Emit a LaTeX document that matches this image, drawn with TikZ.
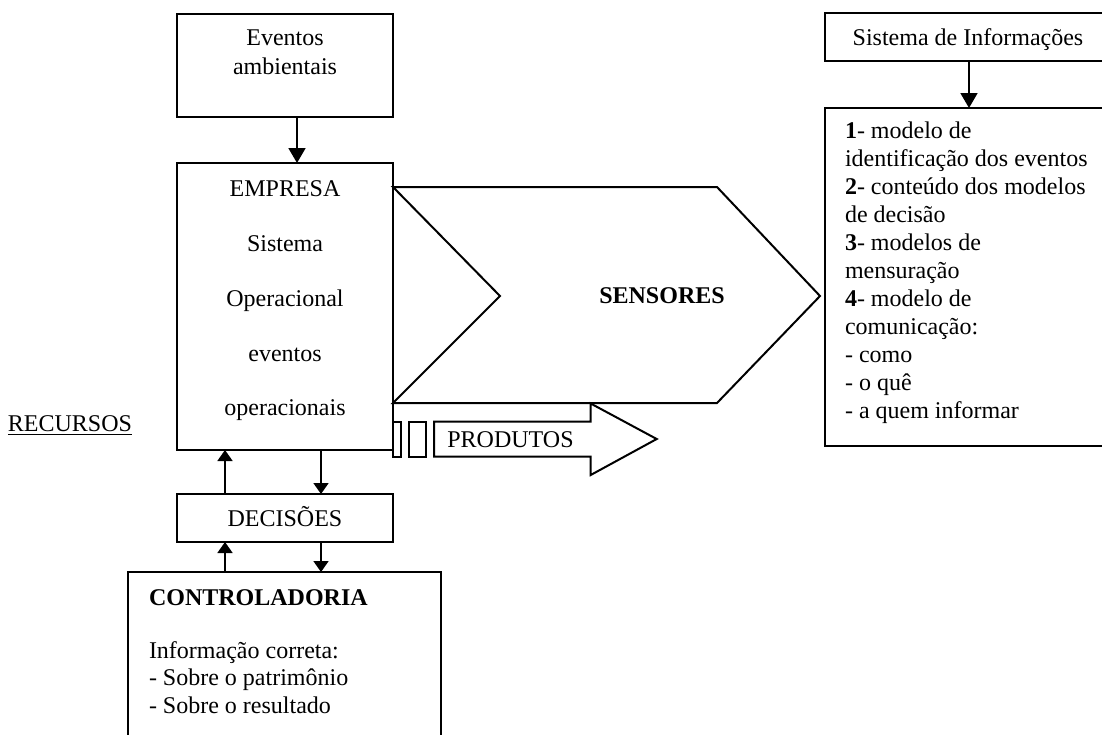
\documentclass[tikz,border=0pt]{standalone}
\usepackage{fontspec}
\setmainfont{Liberation Serif}
\usetikzlibrary{arrows.meta}
\begin{document}
\begin{tikzpicture}[x=0.5pt,y=-0.5pt,
  font=\fontsize{12}{14}\selectfont,
  box/.style={draw, line width=1pt, inner sep=0pt, outer sep=0pt, anchor=north west},
  txt/.style={inner sep=0pt, outer sep=0pt},
  bigarrow/.style={line width=0.9pt, -{Triangle[width=8.5pt,length=7.5pt]}},
  smallarrow/.style={line width=0.9pt, -{Triangle[width=7.5pt,length=5.5pt]}},
  outline/.style={draw, line width=1pt, line join=miter, fill=white}]
\useasboundingbox (0,0) rectangle (1102,734);
\clip (0,0) rectangle (1102,734);

% boxes
\node[box, minimum width=108pt, minimum height=51.5pt] (ev) at (177,14) {};
\node[box, minimum width=108pt, minimum height=143.5pt] (emp) at (177,163) {};
\node[box, minimum width=108pt, minimum height=24pt] (dec) at (177,494) {};
\node[box, minimum width=156.5pt, minimum height=94pt] (ctl) at (128,572) {};
\node[box, minimum width=143pt, minimum height=24pt] (si) at (825,13) {};
\node[box, minimum width=143pt, minimum height=169pt] (inf) at (825,108) {};

% SENSORES chevron
\draw[outline] (393,187) -- (717,187) -- (820,296) -- (717,403) -- (393,403)
  -- (500,296) -- cycle;
\node[txt, anchor=base, font=\fontsize{12}{14}\selectfont\bfseries] (sens) at (662,303) {SENSORES};

% PRODUTOS arrow and its two small bars
\draw[outline] (434,421.7) -- (590.7,421.7) -- (590.7,403.5) -- (656.7,439)
  -- (590.7,475) -- (590.7,456.7) -- (434,456.7) -- cycle;
\draw[outline] (393,421.7) rectangle (400.7,456.7);
\draw[outline] (409,421.7) rectangle (425.7,456.7);
\node[txt, anchor=base] (prod) at (510.5,447.3) {PRODUTOS};

% texts
\node[txt, anchor=base] (ev1) at (285,45.7) {Eventos};
\node[txt, anchor=base] (ev2) at (285,74) {ambientais};

\node[txt, anchor=base] (e1) at (285,196.7) {EMPRESA};
\node[txt, anchor=base] (e2) at (285,251.5) {Sistema};
\node[txt, anchor=base] (e3) at (285,306.3) {Operacional};
\node[txt, anchor=base] (e4) at (285,361.1) {eventos};
\node[txt, anchor=base] (e5) at (285,415.9) {operacionais};

\node[txt, anchor=base] (d1) at (285,526.7) {DECISÕES};

\node[txt, anchor=base east] (rec) at (132,431.7) {\underline{RECURSOS}};

\node[txt, anchor=base west, font=\fontsize{12}{14}\selectfont\bfseries] (c1) at (149,605) {CONTROLADORIA};
\node[txt, anchor=base west] (c2) at (149,658.3) {Informação correta:};
\node[txt, anchor=base west] (c3) at (149,685.8) {- Sobre o patrimônio};
\node[txt, anchor=base west] (c4) at (149,713.3) {- Sobre o resultado};

\node[txt, anchor=base] (s1) at (968,45) {Sistema de Informações};

\foreach \k/\t in {0/{\textbf{1}- modelo de},
                   1/{identificação dos eventos},
                   2/{\textbf{2}- conteúdo dos modelos},
                   3/{de decisão},
                   4/{\textbf{3}- modelos de},
                   5/{mensuração},
                   6/{\textbf{4}- modelo de},
                   7/{comunicação:},
                   8/{- como},
                   9/{- o quê},
                   10/{- a quem informar}}
  \node[txt, anchor=base west] (i\k) at (845,138.3+28*\k) {\t};

% connectors
\coordinate (xa) at (297,0);
\coordinate (xb) at (969,0);
\coordinate (xl) at (225,0);
\coordinate (xr) at (321,0);
\draw[bigarrow] (xa |- ev.south) -- (xa |- emp.north);
\draw[bigarrow] (xb |- si.south) -- (xb |- inf.north);
\draw[smallarrow] (xl |- dec.north) -- (xl |- emp.south);
\draw[smallarrow] (xr |- emp.south) -- (xr |- dec.north);
\draw[smallarrow] (xl |- ctl.north) -- (xl |- dec.south);
\draw[smallarrow] (xr |- dec.south) -- (xr |- ctl.north);
\end{tikzpicture}
\end{document}
